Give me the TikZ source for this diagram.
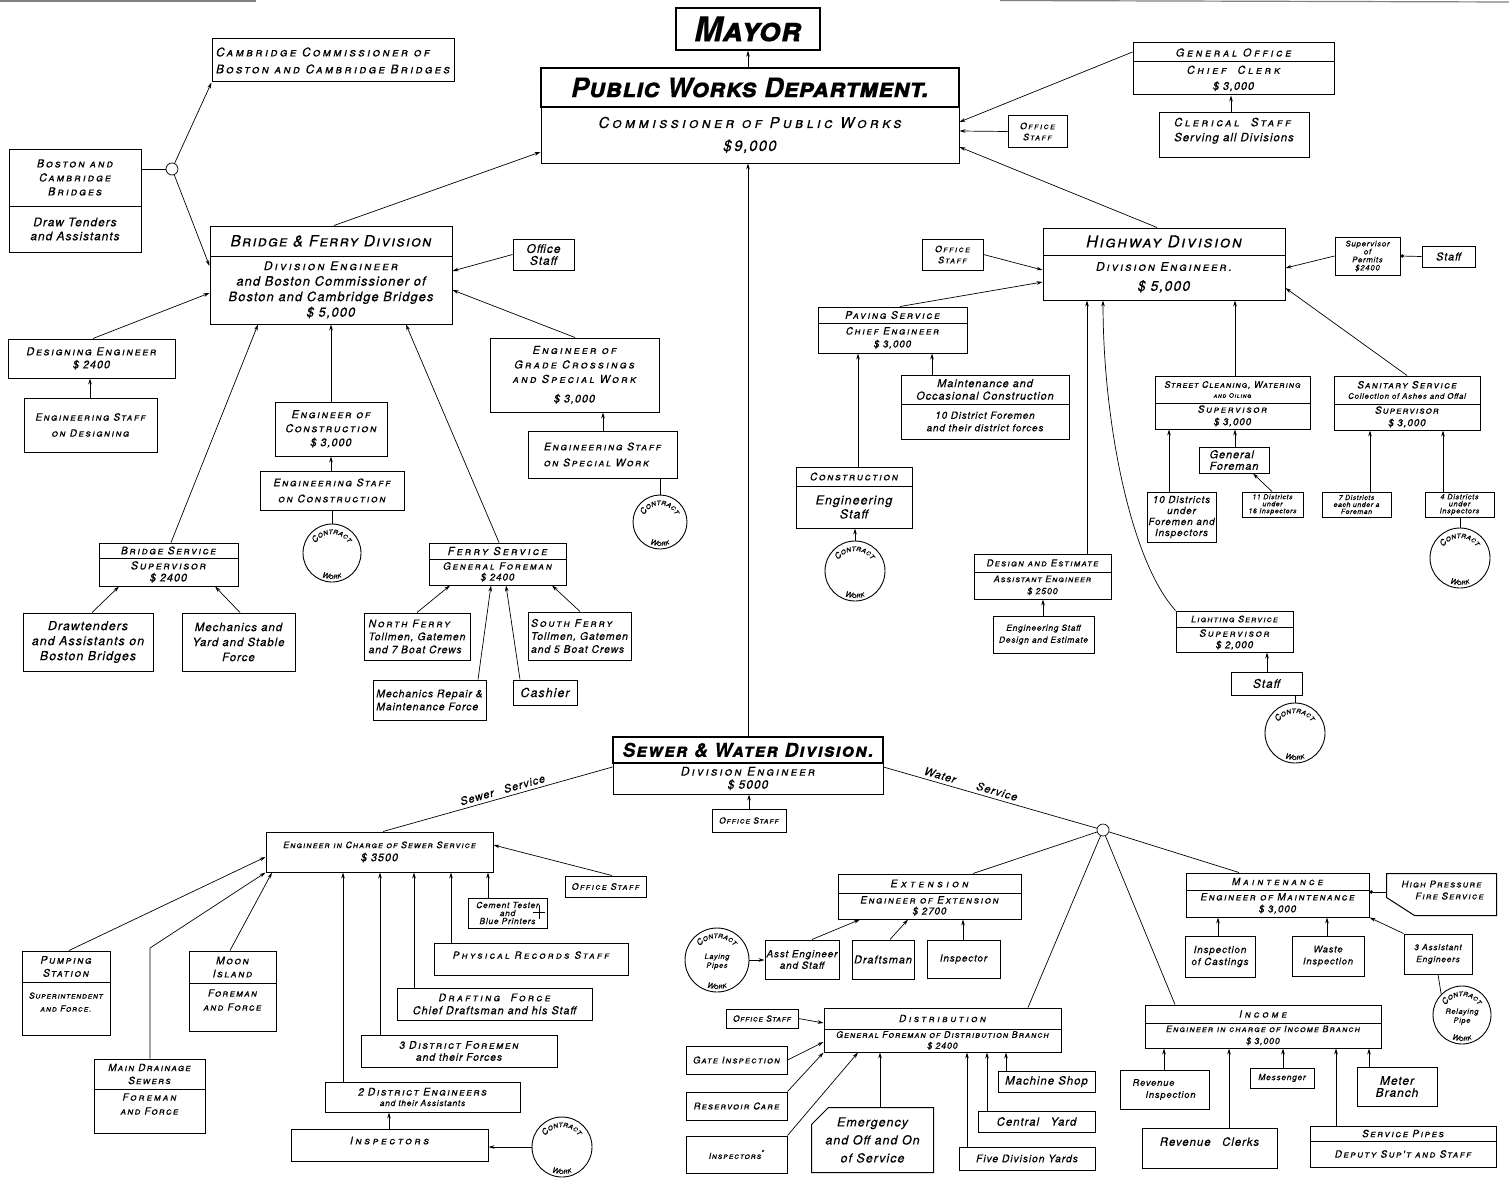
\documentclass[tikz,border=0pt]{standalone}
\usepackage{fontspec}
\newfontfamily\hf[LetterSpace=8,FakeBold=0.2]{TeX Gyre Heros}
\usetikzlibrary{arrows.meta,decorations.text}
\newcommand\fnt[2]{\hf\itshape\fontsize{#1}{#2}\selectfont}
\newcommand\SC[2][18]{{\scshape\addfontfeatures{LetterSpace=#1}#2}}
\newcommand\bxx[7][]{\node[bx,#1,minimum width={(#4-#2)*1pt},minimum height={(#5-#3)*1pt}] (#6) at ({(#2+#4)/2},{(#3+#5)/2}) {#7};}
\newcommand\contract[5][]{%
 \begin{scope}[shift={(#3,#4)},x=1pt,y=1pt]
 \node[circle,draw,line width=0.9pt,minimum size={2*#5*1pt},inner sep=0pt] (#2) at (0,0) {};
 \node[font=\fnt{7.5}{9},align=center,inner sep=0pt] at (0,-1.5) {#1};
 \path[decorate,decoration={text along path,text align=center,text={|\hf\itshape\scshape\fontsize{8.5}{8.5}\selectfont\addfontfeatures{LetterSpace=30}|Contract}}] (192:{#5-10}) arc (192:-12:{#5-10});
 \path[decorate,decoration={text along path,text align=center,text={|\hf\itshape\scshape\fontsize{7.5}{7.5}\selectfont\addfontfeatures{LetterSpace=30}|Work}}] (228:{#5-3}) arc (228:312:{#5-3});
 \end{scope}}
\tikzset{
 bx/.style={draw,line width=1pt,inner sep=1pt,align=center,font=\fnt{10}{12}},
 ln/.style={line width=0.7pt},
 ar/.style={ln,-{Stealth[length=6pt,width=3.6pt]}},
 dt/.style={ln,-{Circle[length=3.5pt]}},
 lab/.style={font=\fnt{11}{12}},
}
\begin{document}
\begin{tikzpicture}[x=1pt,y=-1pt]
\useasboundingbox (0,0) rectangle (1509,1180);
\fill[white] (0,0) rectangle (1509,1180);
\draw[line width=1.2pt,gray] (0,1) -- (256,1);
\draw[line width=1.2pt,gray] (1000,0.5) -- (1509,2);
% ---------- top
\bxx[line width=1.4pt,font=\hf\bfseries\itshape\fontsize{34}{34}\selectfont]{676}{8}{820}{50}{mayor}{\SC[0]{Mayor}}
\bxx[line width=1.4pt,font=\hf\bfseries\itshape\fontsize{27}{27}\selectfont]{541}{68}{959}{107}{pwd-h}{\SC[0]{Public Works Department.}}
\bxx[font=\fnt{15}{23}]{541}{107}{959}{163}{pwd}{\SC[22]{Commissioner of Public Works}\\\$\,9,000}
\draw[ar] (pwd-h.north -| 748,0) -- (mayor.south -| 748,0);
% ---------- bridge & ferry
\bxx[align=left,font=\fnt{12}{17}]{212}{39}{454}{82}{camb}{\SC[20]{Cambridge Commissioner of}\\\SC[19]{Boston and Cambridge Bridges}}
\bxx[font=\fnt{11}{14}]{9}{149}{141}{206}{bcb-h}{\SC{Boston and}\\\SC{Cambridge}\\\SC{Bridges}}
\bxx[font=\fnt{12}{14}]{9}{206}{141}{252}{bcb}{Draw Tenders\\and Assistants}
\node[circle,draw,ln,minimum size=12pt,inner sep=0pt] (j1) at (172,169) {};
\bxx[font=\fnt{15.5}{15}]{210}{226}{452}{256}{bf-h}{\SC[8]{Bridge \& Ferry Division}}
\bxx[font=\fnt{13}{15.5}]{210}{256}{452}{324}{bf}{{\fontsize{12}{15}\selectfont\SC{Division Engineer}}\\and Boston Commissioner of\\Boston and Cambridge Bridges\\\$ 5,000}
\draw[ln] (bcb-h.east |- 0,169) -- (j1);
\draw[ar] (j1) -- (camb.south west);
\draw[ar] (j1) -- (bf.west |- 0,266);
\draw[ar] (bf-h.north -| 334,0) -- (pwd.west |- 0,152);
\bxx[font=\fnt{12}{12}]{513}{239}{574}{270}{bfos}{Office\\Staff}
\draw[ar] (bfos.west) -- (bf.east |- 0,271);
\bxx[font=\fnt{11}{13}]{8}{339}{175}{378}{deseng}{\SC[15]{Designing Engineer}\\\$ 2400}
\draw[ar] (deseng.north -| 93,0) -- (bf.west |- 0,293);
\bxx[font=\fnt{10}{16}]{24}{398}{157}{452}{esd}{\SC[15]{Engineering Staff}\\\SC[15]{on Designing}}
\draw[ar] (esd.north -| 90,0) -- (deseng.south -| 90,0);
\bxx[font=\fnt{11}{14}]{275}{402}{387}{456}{eoc}{\SC[15]{Engineer of}\\\SC[15]{Construction}\\\$ 3,000}
\draw[ar] (eoc.north -| 331,0) -- (bf.south -| 331,0);
\bxx[font=\fnt{10.5}{16}]{260}{471}{404}{510}{esc}{\SC[16]{Engineering Staff}\\\SC[16]{on Construction}}
\draw[ar] (esc.north -| 331,0) -- (eoc.south -| 331,0);
\contract{c1}{332}{553}{29}
\draw[ln] (c1.north) -- (esc.south -| 332,0);
\bxx[font=\fnt{10.5}{12}]{99}{543}{238}{558}{bs-h}{\SC[15]{Bridge Service}}
\bxx[font=\fnt{11}{12}]{99}{558}{238}{586}{bs}{\SC[15]{Supervisor}\\\$ 2400}
\draw[ar] (bs-h.north -| 171,0) -- (bf.south -| 258,0);
\bxx[font=\fnt{12.5}{15}]{23}{613}{153}{671}{dtd}{Drawtenders\\and Assistants on\\Boston Bridges}
\draw[ar] (dtd.north -| 92,0) -- (bs.south -| 119,0);
\bxx[font=\fnt{11.5}{15}]{182}{613}{295}{671}{mys}{Mechanics and\\Yard and Stable\\Force}
\draw[ar] (mys.north -| 240,0) -- (bs.south -| 215,0);
\bxx[font=\fnt{11}{12}]{429}{543}{566}{559}{fs-h}{\SC[20]{Ferry Service}}
\bxx[font=\fnt{10}{11}]{429}{559}{566}{585}{fs}{\SC[18]{General Foreman}\\\$ 2400}
\draw[ar] (fs-h.north -| 499,0) -- (bf.south -| 406,0);
\bxx[align=left,font=\fnt{10.5}{13}]{364}{613}{470}{660}{nf}{\SC[18]{North Ferry}\\Tollmen, Gatemen\\and 7 Boat Crews}
\draw[ar] (nf.north -| 417,0) -- (fs.south -| 450,0);
\bxx[align=left,font=\fnt{10.5}{13}]{373}{680}{486}{720}{mrm}{Mechanics Repair \&\\Maintenance Force}
\draw[ar] (mrm.north -| 478,0) -- (fs.south -| 491,0);
\bxx[font=\fnt{12.5}{12}]{513}{680}{577}{705}{cash}{Cashier}
\draw[ar] (cash.north -| 520,0) -- (fs.south -| 506,0);
\bxx[align=left,font=\fnt{10.5}{13}]{528}{612}{631}{660}{sf}{\SC[18]{South Ferry}\\Tollmen, Gatemen\\and 5 Boat Crews}
\draw[ar] (sf.north -| 580,0) -- (fs.south -| 552,0);
\bxx[font=\fnt{11}{14.5}]{490}{338}{659}{412}{gc}{\SC[20]{Engineer of}\\\SC[20]{Grade Crossings}\\\SC[20]{and Special Work}\\[5pt]\$ 3,000}
\draw[ar] (gc.north -| 575,0) -- (bf.east |- 0,290);
\bxx[align=left,font=\fnt{10.5}{16}]{528}{431}{677}{478}{esw}{\SC[16]{Engineering Staff}\\\SC[16]{on Special Work}}
\draw[ar] (esw.north -| 603,0) -- (gc.south -| 603,0);
\contract{c2}{660}{522}{27}
\draw[ln] (esw.south -| 660,0) -- (c2.north);
% ---------- general office / highway
\bxx[font=\fnt{11}{12}]{1133}{43}{1334}{62}{go-h}{\SC[25]{General Office}}
\bxx[font=\fnt{11}{16}]{1133}{62}{1334}{95}{go}{\SC[25]{Chief\quad Clerk}\\\$ 3,000}
\draw[ar] (go-h.west |- 0,52) -- (pwd.east |- 0,122);
\bxx[align=left,font=\fnt{11.5}{15}]{1159}{113}{1309}{157}{cler}{\SC[22]{Clerical\quad Staff}\\Serving all Divisions\\[-4pt]\mbox{}}
\draw[ar] (cler.north -| 1231,0) -- (go.south -| 1231,0);
\bxx[font=\fnt{9}{11}]{1008}{116}{1067}{147}{pos}{\SC[15]{Office}\\\SC[15]{Staff}}
\draw[ar] (pos.west) -- (pwd.east |- 0,131);
\bxx[font=\fnt{16.5}{16}]{1043}{228}{1285}{255}{hw-h}{\SC[10]{Highway Division}}
\bxx[font=\fnt{12}{20}]{1043}{255}{1285}{300}{hw}{\SC[16]{Division Engineer.}\\{\fontsize{14}{14}\selectfont\$ 5,000}}
\draw[ar] (hw-h.north -| 1157,0) -- (pwd.east |- 0,147);
\bxx[font=\fnt{9}{11}]{922}{239}{983}{270}{hos}{\SC[15]{Office}\\\SC[15]{Staff}}
\draw[ar] (hos.east) -- (hw.west |- 0,270);
\bxx[font=\fnt{10.5}{10}]{818}{307}{967}{323}{pav-h}{\SC[16]{Paving Service}}
\bxx[font=\fnt{10}{13}]{818}{323}{967}{353}{pav}{\SC[17]{Chief Engineer}\\\$ 3,000}
\draw[ar] (pav-h.north -| 900,0) -- (hw.west |- 0,282);
\bxx[font=\fnt{11}{12.5}]{901}{375}{1069}{404}{moc-h}{Maintenance and\\Occasional Construction}
\bxx[font=\fnt{10}{12.5}]{901}{404}{1069}{439}{moc}{10 District Foremen\\and their district forces}
\draw[ar] (moc-h.north -| 932,0) -- (pav.south -| 932,0);
\bxx[font=\fnt{10.5}{10}]{796}{467}{912}{486}{con-h}{\SC[16]{Construction}}
\bxx[font=\fnt{12.5}{14}]{796}{486}{912}{528}{con}{Engineering\\Staff}
\draw[ar] (con-h.north -| 858,0) -- (pav.south -| 858,0);
\contract{c3}{855}{571}{30}
\draw[ar] (c3.north) -- (con.south -| 855,0);
\bxx[font=\fnt{9.5}{10}]{974}{554}{1111}{572}{de-h}{\SC[13]{Design and Estimate}}
\bxx[font=\fnt{9}{12}]{974}{572}{1111}{599}{de}{\SC[10]{Assistant Engineer}\\\$ 2500}
\draw[ar] (de-h.north -| 1087,0) -- (hw.south -| 1087,0);
\bxx[font=\fnt{8.5}{12}]{993}{616}{1094}{653}{esde}{Engineering Staff\\Design and Estimate}
\draw[ar] (esde.north -| 1043,0) -- (de.south -| 1043,0);
\bxx[font=\fnt{9}{10}]{1176}{611}{1293}{627}{ls-h}{\SC[12]{Lighting Service}}
\bxx[font=\fnt{10}{11.5}]{1176}{627}{1293}{652}{ls}{\SC[17]{Supervisor}\\\$ 2,000}
\draw[ar] (ls-h.north west) .. controls (1130,560) and (1103,420) .. (hw.south -| 1103,0);
\bxx[font=\fnt{12}{12}]{1231}{672}{1302}{695}{lst}{Staff}
\draw[ar] (lst.north -| 1267,0) -- (ls.south -| 1267,0);
\contract{c4}{1295}{733}{30}
\draw[ln] (lst.south -| 1295,0) -- (c4.north);
\bxx[font=\fnt{9}{10}]{1155}{376}{1310}{403}{sc-h}{\SC[10]{Street Cleaning, Watering}\\{\fontsize{6.5}{7}\selectfont\SC[10]{and Oiling}}}
\bxx[font=\fnt{10}{12.5}]{1155}{403}{1310}{429}{sc}{\SC[16]{Supervisor}\\\$ 3,000}
\draw[ar] (sc-h.north -| 1235,0) -- (hw.south -| 1235,0);
\bxx[align=left,font=\fnt{11}{11.5}]{1199}{447}{1269}{473}{gf}{General\\Foreman}
\draw[ar] (gf.north -| 1235,0) -- (sc.south -| 1235,0);
\bxx[font=\fnt{10}{11}]{1147}{492}{1216}{542}{d10}{10 Districts\\under\\Foremen and\\Inspectors}
\draw[ar] (d10.north -| 1169,0) -- (sc.south -| 1169,0);
\bxx[font=\fnt{7}{7}]{1242}{492}{1303}{517}{d11}{11 Districts\\under\\16 Inspectors}
\draw[ar] (d11.north -| 1272,0) -- (gf.south -| 1253,0);
\bxx[font=\fnt{10}{10.5}]{1334}{376}{1480}{404}{ss-h}{\SC[13]{Sanitary Service}\\{\fontsize{8}{8}\selectfont Collection of Ashes and Offal}}
\bxx[font=\fnt{10}{12.5}]{1334}{404}{1480}{430}{ss}{\SC[10]{Supervisor}\\\$ 3,000}
\draw[ar] (ss-h.north -| 1407,0) -- (hw.east |- 0,288);
\bxx[font=\fnt{7}{7}]{1322}{492}{1391}{517}{d7}{7 Districts\\each under a\\Foreman}
\draw[ar] (d7.north -| 1370,0) -- (ss.south -| 1370,0);
\bxx[font=\fnt{7.5}{7}]{1425}{492}{1494}{517}{d4}{4 Districts\\under\\Inspectors}
\draw[ar] (d4.north -| 1443,0) -- (ss.south -| 1443,0);
\contract{c5}{1460}{558}{30}
\draw[ln] (d4.south -| 1460,0) -- (c5.north);
\bxx[font=\fnt{8}{8}]{1335}{237}{1400}{275}{sop}{Supervisor\\of\\Permits\\\$2400}
\draw[ar] (sop.west) -- (hw.east |- 0,268);
\bxx[font=\fnt{11}{10}]{1422}{246}{1475}{267}{sopst}{Staff}
\draw[dt] (sopst.west) -- (sop.east |- 0,256);
% ---------- sewer & water
\bxx[line width=1.3pt,font=\hf\bfseries\itshape\fontsize{19}{19}\selectfont]{613}{737}{883}{763}{sw-h}{\SC[6]{Sewer \& Water Division.}}
\bxx[font=\fnt{12}{13}]{613}{763}{883}{794}{sw}{\SC[18]{Division Engineer}\\\$ 5000}
\draw[ar] (sw-h.north -| 748,0) -- (pwd.south -| 748,0);
\bxx[font=\fnt{8.5}{10}]{712}{809}{786}{832}{swos}{\SC[10]{Office Staff}}
\draw[ar] (swos.north -| 749,0) -- (sw.south -| 749,0);
\bxx[font=\fnt{9}{13}]{266}{832}{493}{872}{eic}{\SC[11]{Engineer in Charge of Sewer Service}\\{\fontsize{11}{11}\selectfont\$ 3500}}
\draw[ln] (sw.west |- 0,767) -- (eic.north -| 383,0) node[pos=0.47,sloped,above=0pt,lab] {Sewer\quad Service};
\bxx[font=\fnt{9}{10}]{565}{876}{646}{897}{sos}{\SC[15]{Office Staff}}
\draw[ar] (sos.north -| 612,0) -- (eic.east |- 0,845);
\bxx[font=\fnt{8.5}{8}]{468}{898}{547}{928}{ct}{Cement Tester\\and\\Blue Printers\hspace{9pt}}
\draw[ln] (533,912) -- (545,912) (539,905) -- (539,919);
\draw[ar] (ct.north -| 488,0) -- (eic.south -| 488,0);
\bxx[font=\fnt{10}{10}]{434}{943}{628}{975}{prs}{\SC[22]{Physical Records Staff}\\[-2pt]\mbox{}}
\draw[ar] (prs.north -| 451,0) -- (eic.south -| 451,0);
\bxx[font=\fnt{11}{13}]{397}{988}{592}{1020}{dfo}{{\fontsize{10.5}{12}\selectfont\SC[22]{Drafting\quad Force}}\\Chief Draftsman and his Staff}
\draw[ar] (dfo.north -| 414,0) -- (eic.south -| 414,0);
\bxx[font=\fnt{10.5}{12}]{361}{1035}{557}{1067}{df3}{3 \SC[15]{District Foremen}\\and their Forces}
\draw[ar] (df3.north -| 380,0) -- (eic.south -| 380,0);
\bxx[font=\fnt{10.5}{10.5}]{325}{1082}{520}{1112}{de2}{2 \SC[14]{District Engineers}\\{\fontsize{8.5}{9}\selectfont and their Assistants}}
\draw[ar] (de2.north -| 343,0) -- (eic.south -| 343,0);
\bxx[font=\fnt{10.5}{10}]{291}{1129}{488}{1161}{insp}{\SC[25]{Inspectors}\\[-1pt]\mbox{}}
\draw[ar] (insp.north -| 389,0) -- (de2.south -| 389,0);
\contract{c6}{562}{1147}{30}
\draw[ar] (c6.west) -- (insp.east |- 0,1147);
\bxx[font=\fnt{10.5}{13}]{22}{951}{110}{982}{ps-h}{\SC[15]{Pumping}\\\SC[15]{Station}}
\bxx[font=\fnt{8.5}{13}]{22}{982}{110}{1035}{ps}{\SC[8]{Superintendent}\\\SC[10]{and Force.}\\\mbox{}}
\draw[ar] (ps-h.north -| 69,0) -- (eic.west |- 0,857);
\bxx[font=\fnt{10}{13}]{94}{1059}{205}{1089}{md-h}{\SC[12]{Main Drainage}\\\SC[12]{Sewers}}
\bxx[font=\fnt{10}{14}]{94}{1089}{205}{1133}{md}{\SC[20]{Foreman}\\\SC[12]{and Force}\\\mbox{}}
\coordinate (mdbend) at (150,948);
\draw[ar] (md-h.north -| 150,0) -- (mdbend) -- (eic.south west);
\bxx[font=\fnt{10.5}{13}]{189}{951}{276}{983}{mi-h}{\SC[15]{Moon}\\\SC[15]{Island}}
\bxx[font=\fnt{10}{14}]{189}{983}{276}{1031}{mi}{\SC[12]{Foreman}\\\SC[12]{and Force}\\\mbox{}}
\draw[ar] (mi-h.north -| 230,0) -- (eic.south -| 272,0);
% water
\node[circle,draw,ln,minimum size=12pt,inner sep=0pt] (wj) at (1103,830) {};
\draw[ln] (sw.east |- 0,767) -- (wj) node[pos=0.4,sloped,above=0pt,lab] {Water\qquad Service};
\bxx[font=\fnt{10.5}{10}]{838}{874}{1021}{893}{ext-h}{\SC[32]{Extension}}
\bxx[font=\fnt{10}{11}]{838}{893}{1021}{919}{ext}{\SC[16]{Engineer of Extension}\\\$ 2700}
\draw[ln] (ext-h.north -| 973,0) -- (wj);
\bxx[font=\fnt{10}{11.5}]{765}{940}{839}{979}{ae}{Asst Engineer\\and Staff}
\draw[ar] (ae.north -| 812,0) -- (ext.south -| 860,0);
\bxx[font=\fnt{11}{11}]{852}{940}{914}{979}{dra}{Draftsman}
\draw[ar] (dra.north -| 890,0) -- (ext.south -| 908,0);
\bxx[font=\fnt{10}{11}]{927}{940}{1000}{978}{ins1}{Inspector}
\draw[ar] (ins1.north -| 963,0) -- (ext.south -| 963,0);
\contract[Laying\\Pipes]{c7}{717}{960}{32}
\draw[ar] (c7.east) -- (ae.west |- 0,960);
\bxx[font=\fnt{10}{10}]{824}{1008}{1061}{1029}{dist-h}{\SC[25]{Distribution}}
\bxx[font=\fnt{9}{11}]{824}{1029}{1061}{1052}{dist}{\SC[11]{General Foreman of Distribution Branch}\\\$ 2400}
\draw[ln] (dist-h.north -| 1028,0) -- (wj);
\bxx[font=\fnt{8.5}{10}]{726}{1009}{798}{1028}{dos}{\SC[8]{Office Staff}}
\draw[ar] (dos.east) -- (dist-h.west |- 0,1023);
\bxx[font=\fnt{9.5}{10}]{686}{1046}{787}{1074}{gi}{\SC[12]{Gate Inspection}}
\draw[ar] (gi.east) -- (dist.west |- 0,1042);
\bxx[font=\fnt{9.5}{10}]{686}{1092}{787}{1120}{rc}{\SC[12]{Reservoir Care}}
\draw[ar] (rc.north east) -- (dist.south west);
\bxx[font=\fnt{8.5}{10}]{686}{1136}{787}{1173}{ins2}{\SC[10]{Inspectors}\raisebox{5pt}{\textbullet}}
\draw[ar] (ins2.north east) -- (dist.south -| 858,0);
\bxx[draw=none,font=\fnt{12.5}{18}]{812}{1108}{933}{1172}{emg}{Emergency\\and Off and On\\of Service}
\draw[line width=1pt] ([xshift=17pt]emg.north west) -- (emg.north east) -- (emg.south east) -- (emg.south west) -- ([yshift=-17pt]emg.north west) -- cycle;
\draw[ar] (emg.north -| 880,0) -- (dist.south -| 880,0);
\bxx[font=\fnt{11.5}{10}]{998}{1071}{1095}{1092}{ms}{Machine Shop}
\draw[ar] (ms.north -| 1006,0) -- (dist.south -| 1006,0);
\bxx[font=\fnt{11.5}{10}]{978}{1111}{1095}{1132}{cy}{Central\quad Yard}
\draw[ar] (cy.north -| 987,0) -- (dist.south -| 987,0);
\bxx[font=\fnt{10.5}{10}]{959}{1147}{1095}{1170}{fdy}{Five Division Yards}
\draw[ar] (fdy.north -| 967,0) -- (dist.south -| 967,0);
\bxx[font=\fnt{10}{10}]{1186}{873}{1369}{890}{mnt-h}{\SC[30]{Maintenance}}
\bxx[font=\fnt{10}{12}]{1186}{890}{1369}{917}{mnt}{\SC[16]{Engineer of Maintenance}\\\$ 3,000}
\draw[ln] (mnt-h.north -| 1239,0) -- (wj);
\bxx[draw=none,font=\fnt{9.5}{12}]{1387}{874}{1496}{915}{hp}{\SC[12]{High Pressure}\\\hspace*{16pt}\SC[12]{Fire Service}\\[-3pt]\mbox{}}
\draw[line width=1pt] (hp.north west) -- (hp.north east) -- (hp.south east) -- ([xshift=28pt]hp.south west) -- ([yshift=-24pt]hp.north west) -- cycle;
\draw[dt] (hp.west |- 0,892) -- (mnt.east |- 0,892);
\bxx[font=\fnt{10}{12}]{1185}{936}{1255}{977}{ioc}{Inspection\\of Castings}
\draw[ar] (ioc.north -| 1218,0) -- (mnt.south -| 1218,0);
\bxx[font=\fnt{9.5}{12}]{1292}{936}{1364}{976}{wi}{Waste\\Inspection}
\draw[ar] (wi.north -| 1327,0) -- (mnt.south -| 1327,0);
\bxx[font=\fnt{8.5}{12}]{1404}{934}{1472}{974}{ae3}{3 Assistant\\Engineers}
\draw[ar] (ae3.north west) -- (mnt.south east);
\contract[Relaying\\Pipe]{c8}{1462}{1015}{29}
\draw[ln] (c8.north west) -- (ae3.south -| 1438,0);
\bxx[font=\fnt{10}{10}]{1145}{1005}{1381}{1023}{inc-h}{\SC[30]{Income}}
\bxx[font=\fnt{9}{12}]{1145}{1023}{1381}{1048}{inc}{\SC[12]{Engineer in charge of Income Branch}\\\$ 3,000}
\draw[ln] (inc-h.north -| 1175,0) -- (wj);
\bxx[font=\fnt{9.5}{12}]{1120}{1070}{1209}{1109}{ri}{Revenue\hspace*{22pt}\\\hspace*{12pt}Inspection}
\draw[ar] (ri.north -| 1164,0) -- (inc.south -| 1164,0);
\bxx[font=\fnt{8.5}{8}]{1250}{1068}{1314}{1088}{mes}{Messenger}
\draw[ar] (mes.north -| 1283,0) -- (inc.south -| 1283,0);
\bxx[font=\fnt{12}{12}]{1357}{1067}{1437}{1106}{mb}{Meter\\Branch}
\draw[ar] (mb.north -| 1369,0) -- (inc.south -| 1369,0);
\bxx[font=\fnt{11.5}{13}]{1142}{1128}{1277}{1168}{rcl}{Revenue\quad Clerks\\\mbox{}}
\draw[ar] (rcl.north -| 1229,0) -- (inc.south -| 1229,0);
\bxx[font=\fnt{10}{10}]{1310}{1126}{1496}{1141}{sp-h}{\SC[15]{Service Pipes}}
\bxx[font=\fnt{10}{10}]{1310}{1141}{1496}{1167}{sp}{\SC[14]{Deputy Sup't and Staff}}
\draw[ar] (sp-h.north -| 1336,0) -- (inc.south -| 1336,0);
\end{tikzpicture}
\end{document}
